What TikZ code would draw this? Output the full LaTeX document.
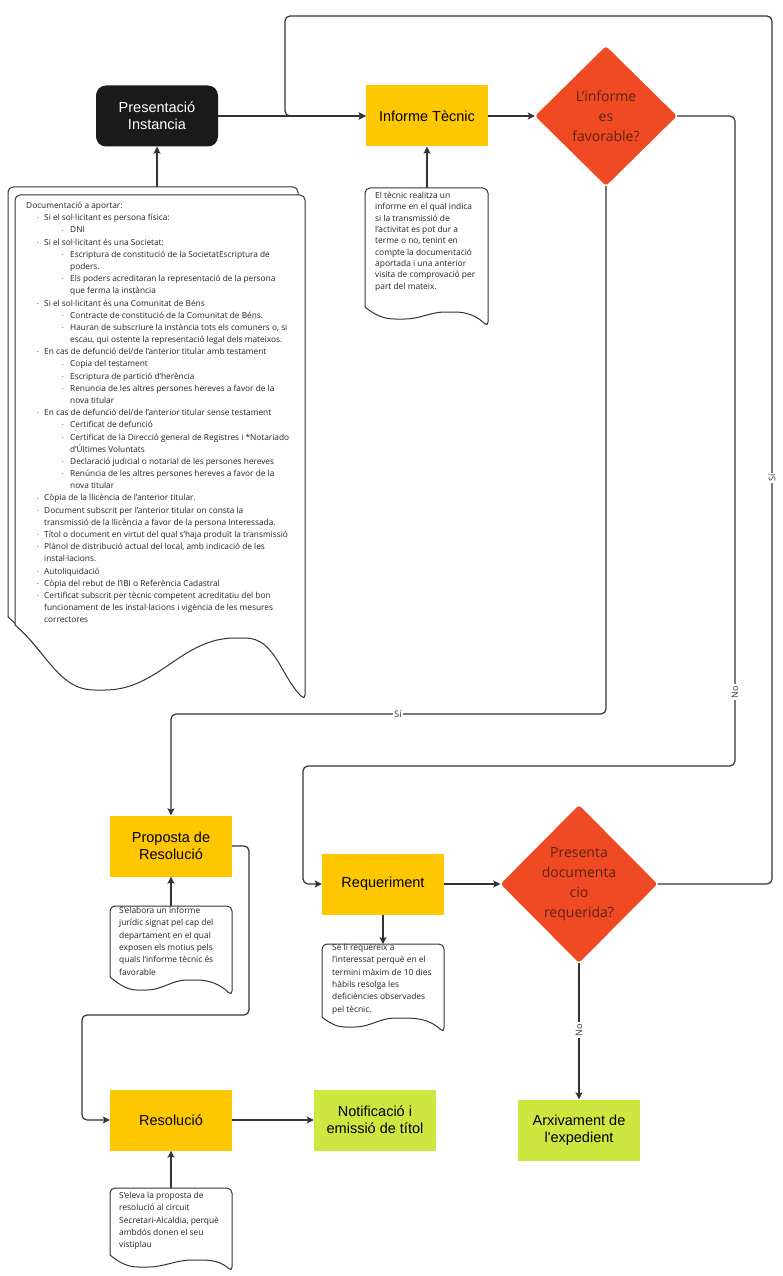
\documentclass[tikz,border=0pt]{standalone}
\usepackage{fontspec}
\setmainfont{Open Sans}
\newfontfamily\arialf{Liberation Sans}
\usetikzlibrary{shapes.geometric,arrows.meta}
\definecolor{ybox}{HTML}{FFC700}
\definecolor{gbox}{HTML}{CDE640}
\definecolor{dred}{HTML}{F04A25}
\definecolor{dtext}{HTML}{5A2412}
\definecolor{lc}{HTML}{333333}
\definecolor{ntext}{HTML}{222222}
\definecolor{blk}{HTML}{1A1A1A}
\newcommand\bul{\raisebox{0.9pt}{\fontsize{4}{4}\selectfont •}}
\newcommand\Li[1]{\hspace*{11pt}\makebox[7pt][l]{\bul}#1}
\newcommand\Lii[1]{\hspace*{36pt}\makebox[8pt][l]{\bul}#1}
\newcommand\Ci[1]{\hspace*{18pt}#1}
\newcommand\Cii[1]{\hspace*{44pt}#1}
\newcommand\fst{\rule{0pt}{6.4pt}}
\newcommand\docshape[9]{%
  \draw[noteline] (#1,#4) -- (#1,#2) -- (#3,#2) -- (#3,#9)
    to[out=135,in=0] (#7,#8) to[out=180,in=0] (#5,#6) to[out=180,in=-40] (#1,#4);}
\begin{document}
\begin{tikzpicture}[x=1pt,y=-1pt,
  box/.style={rectangle, minimum width=122pt, minimum height=61pt, inner sep=2pt, align=center,
     font=\arialf\fontsize{14.5}{17}\selectfont},
  ybx/.style={box, fill=ybox},
  gbx/.style={box, fill=gbox},
  dia/.style={diamond, fill=dred, inner sep=0pt, align=center, text=dtext, rounded corners=3pt,
     font=\fontsize{14}{20}\selectfont},
  conn/.style={draw=lc, line width=1.2pt, rounded corners=5pt, -{Stealth[length=7pt,width=7pt,inset=1.5pt]}},
  lbl/.style={fill=white, inner sep=1.5pt, font=\fontsize{9}{10}\selectfont, text=lc},
  noteline/.style={draw=lc, line width=1pt, fill=white, rounded corners=5pt},
  notetext/.style={align=left, inner sep=0pt, font=\fontsize{8.4}{12.3}\selectfont, text=ntext, anchor=north west},
]
\useasboundingbox (0,0) rectangle (783,1276);
\fill[white] (0,0) rectangle (783,1276);

% main boxes
\node[box, fill=blk, text=white, rounded corners=10pt] (pres) at (157,116) {Presentació\\Instancia};
\node[ybx] (inf) at (427,116) {Informe Tècnic};
\node[dia, minimum width=142pt, minimum height=140pt] (d1) at (606,116) {L'informe\\es\\favorable?};
\node[ybx] (prop) at (171,846) {Proposta de\\Resolució};
\node[ybx] (req) at (383,884) {Requeriment};
\node[dia, minimum width=157pt, minimum height=158pt] (d2) at (579,884) {Presenta\\documenta\\cio\\requerida?};
\node[ybx] (res) at (171,1120) {Resolució};
\node[gbx] (notif) at (375,1120) {Notificació i\\emissió de títol};
\node[gbx] (arx) at (579,1130) {Arxivament de\\l'expedient};

% documentation notes
\docshape{8}{187}{298}{617}{93}{680}{233}{628}{684}
\docshape{15}{195}{305}{625}{100}{690}{240}{638}{700}
\coordinate (doctop) at (157,187);
\node[notetext, font=\fontsize{8.3}{12.18}\selectfont] (doctxt) at (26,202) {\fst Documentació a aportar:\\
\Li{Si el sol·licitant es persona física:}\\
\Lii{DNI}\\
\Li{Si el sol·licitant és una Societat:}\\
\Lii{Escriptura de constitució de la SocietatEscriptura de}\\
\Cii{poders.}\\
\Lii{Els poders acreditaran la representació de la persona}\\
\Cii{que ferma la instància}\\
\Li{Si el sol·licitant és una Comunitat de Béns}\\
\Lii{Contracte de constitució de la Comunitat de Béns.}\\
\Lii{Hauran de subscriure la instància tots els comuners o, si}\\
\Cii{escau, qui ostente la representació legal dels mateixos.}\\
\Li{En cas de defunció del/de l'anterior titular amb testament}\\
\Lii{Copia del testament}\\
\Lii{Escriptura de partició d'herència}\\
\Lii{Renuncia de les altres persones hereves a favor de la}\\
\Cii{nova titular}\\
\Li{En cas de defunció del/de l'anterior titular sense testament}\\
\Lii{Certificat de defunció}\\
\Lii{Certificat de la Direcció general de Registres i *Notariado}\\
\Cii{d'Últimes Voluntats}\\
\Lii{Declaració judicial o notarial de les persones hereves}\\
\Lii{Renúncia de les altres persones hereves a favor de la}\\
\Cii{nova titular}\\
\Li{Còpia de la llicència de l'anterior titular.}\\
\Li{Document subscrit per l'anterior titular on consta la}\\
\Ci{transmissió de la llicència a favor de la persona Interessada.}\\
\Li{Títol o document en virtut del qual s'haja produït la transmissió}\\
\Li{Plànol de distribució actual del local, amb indicació de les}\\
\Ci{instal·lacions.}\\
\Li{Autoliquidació}\\
\Li{Còpia del rebut de l'IBI o Referència Cadastral}\\
\Li{Certificat subscrit per tècnic competent acreditatiu del bon}\\
\Ci{funcionament de les instal·lacions i vigència de les mesures}\\
\Ci{correctores}};

% other notes
\docshape{365}{188}{488}{307}{400}{319}{450}{312}{327}
\coordinate (ntectop) at (427,188);
\node[notetext, font=\fontsize{8.4}{11.3}\selectfont] (ntec) at (375,192) {\fst El tècnic realitza un\\informe en el qual indica\\si la transmissió de\\l'activitat es pot dur a\\terme o no, tenint en\\compte la documentació\\aportada i una anterior\\visita de comprovació per\\part del mateix.};

\docshape{110}{906}{232}{977}{142}{990}{192}{980}{996}
\coordinate (nproptop) at (171,906);
\node[notetext] (nprop) at (119,907) {\fst S'elabora un informe\\jurídic signat pel cap del\\departament en el qual\\exposen els motius pels\\quals l'informe tècnic és\\favorable};

\docshape{322}{944}{444}{1017}{350}{1027}{400}{1018}{1033}
\coordinate (nreqtop) at (383,944);
\node[notetext] (nreq) at (332,944) {\fst Se li requereix a\\l'interessat perquè en el\\termini màxim de 10 dies\\hàbils resolga les\\deficiències observades\\pel tècnic.};

\docshape{110}{1188}{232}{1255}{143}{1267}{197}{1260}{1272}
\coordinate (nrestop) at (171,1188);
\node[notetext] (nres) at (119,1192) {\fst S'eleva la proposta de\\resolució al circuit\\Secretari-Alcaldia, perquè\\ambdós donen el seu\\vistiplau};

% connectors
\coordinate (loopR) at (772,16);
\coordinate (loopL) at (285,116);
\coordinate (noA) at (735,766);
\coordinate (noB) at (303,884);
\coordinate (siA) at (171,714);
\coordinate (prA) at (249,1015);
\coordinate (prB) at (82,1120);

\draw[conn] (doctop) -- (pres.south);
\draw[conn] (pres.east) -- (inf.west);
\draw[conn] (ntectop) -- (inf.south);
\draw[conn] (inf.east) -- (d1.west);
\draw[conn] (d2.east) -| (loopR) -| (loopL) -- (inf.west);
\draw[conn] (d1.east) -| (noA) -| (noB) -- (req.west);
\draw[conn] (d1.south) |- (siA) -- (prop.north);
\draw[conn] (nproptop) -- (prop.south);
\draw[conn] (prop.east) -| (prA) -| (prB) -- (res.west);
\draw[conn] (req.south) -- (nreqtop);
\draw[conn] (req.east) -- (d2.west);
\draw[conn] (d2.south) -- (arx.north);
\draw[conn] (nrestop) -- (res.south);
\draw[conn] (res.east) -- (notif.west);

% labels
\node[lbl] (lsi1) at (398,714) {Sí};
\node[lbl, rotate=90] (lsi2) at (772,478) {Sí};
\node[lbl, rotate=90] (lno1) at (735,692) {No};
\node[lbl, rotate=90] (lno2) at (579,1030) {No};
\end{tikzpicture}
\end{document}
